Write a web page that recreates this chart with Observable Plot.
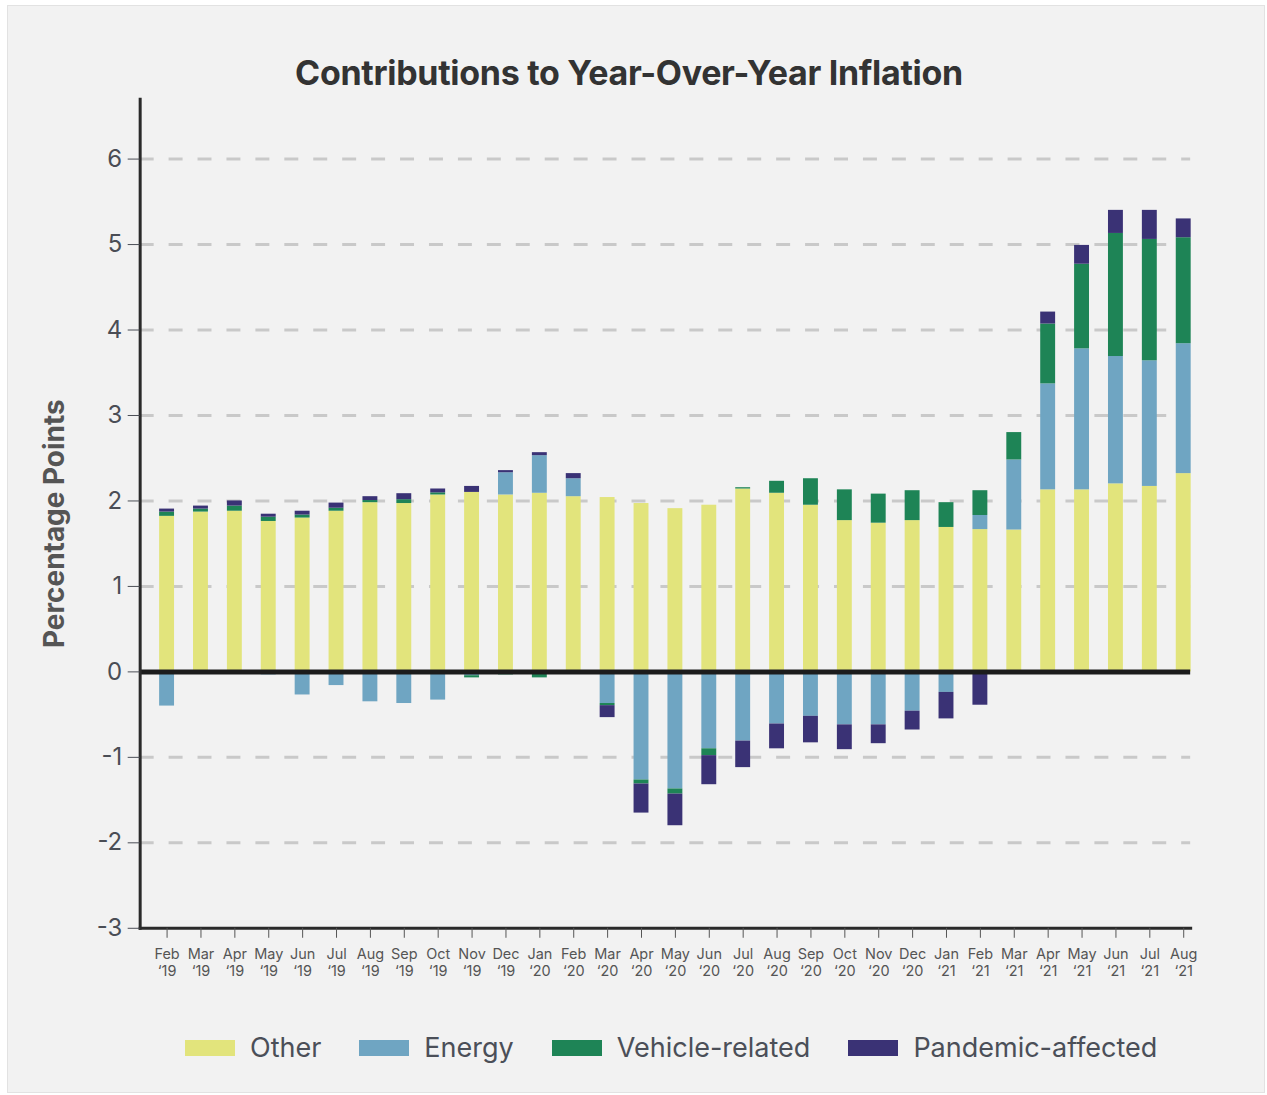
<!DOCTYPE html>
<html><head><meta charset="utf-8">
<script src="https://cdn.jsdelivr.net/npm/d3@7"></script>
<script src="https://cdn.jsdelivr.net/npm/@observablehq/plot@0.6"></script>
<style>
body{margin:0;background:#fff;font-family:Inter,"Noto Sans",sans-serif;width:1267px;height:1095px;position:relative;overflow:hidden;}
#panel{position:absolute;left:7px;top:5px;width:1258px;height:1088px;background:#f2f2f2;border:1px solid #e2e2e2;box-sizing:border-box;}
#title{position:absolute;left:-8px;top:46px;width:1258px;text-align:center;font-weight:700;font-size:34px;color:#333;letter-spacing:-0.3px;}
#chart{position:absolute;left:-8px;top:-6px;}
#legend{position:absolute;left:177px;top:1025px;display:flex;align-items:center;gap:38px;font-size:27px;color:#4b4f58;}
.item{display:flex;align-items:center;}
.sw{width:50px;height:16px;margin-right:15px;}
</style>
</head><body>
<div id="panel">
  <div id="title">Contributions to Year-Over-Year Inflation</div>
  <div id="chart"></div>
  <div id="legend"></div>
</div>
<script>
const months = ["Feb\n‘19","Mar\n‘19","Apr\n‘19","May\n‘19","Jun\n‘19","Jul\n‘19","Aug\n‘19","Sep\n‘19","Oct\n‘19","Nov\n‘19","Dec\n‘19",
  "Jan\n‘20","Feb\n‘20","Mar\n‘20","Apr\n‘20","May\n‘20","Jun\n‘20","Jul\n‘20","Aug\n‘20","Sep\n‘20","Oct\n‘20","Nov\n‘20","Dec\n‘20",
  "Jan\n‘21","Feb\n‘21","Mar\n‘21","Apr\n‘21","May\n‘21","Jun\n‘21","Jul\n‘21","Aug\n‘21"];
const other    = [1.82,1.87,1.88,1.76,1.80,1.88,1.98,1.97,2.07,2.10,2.07,2.09,2.05,2.04,1.97,1.91,1.95,2.14,2.09,1.95,1.77,1.74,1.77,1.69,1.665,1.66,2.13,2.13,2.20,2.17,2.32];
const energy   = [-0.40,0,0,-0.035,-0.27,-0.16,-0.35,-0.37,-0.33,-0.045,0.26,0.44,0.21,-0.37,-1.265,-1.37,-0.90,-0.81,-0.61,-0.52,-0.62,-0.62,-0.46,-0.24,0.165,0.82,1.24,1.65,1.49,1.47,1.52];
const vehicle  = [0.05,0.035,0.06,0.05,0.035,0.035,0.025,0.045,0.025,-0.025,-0.035,-0.07,0,-0.025,-0.047,-0.06,-0.08,0.015,0.14,0.31,0.36,0.34,0.35,0.29,0.29,0.32,0.70,0.99,1.44,1.42,1.24];
const pandemic = [0.035,0.035,0.06,0.035,0.045,0.06,0.045,0.07,0.045,0.07,0.025,0.035,0.06,-0.14,-0.34,-0.37,-0.34,-0.31,-0.29,-0.31,-0.29,-0.22,-0.22,-0.31,-0.39,0,0.14,0.22,0.27,0.34,0.22];
const series = ["Other","Energy","Vehicle-related","Pandemic-affected"];
const colors = ["#e2e47c","#6fa5c2","#1e8456","#3a3275"];
const yTicks = [-3,-2,-1,0,1,2,3,4,5,6];
const gridTicks = [-2,-1,1,2,3,4,5,6];

const rows = [];
[other, energy, vehicle, pandemic].forEach((arr, si) =>
  arr.forEach((v, i) => rows.push({month: months[i], series: series[si], value: v})));

const chart = Plot.plot({
  width: 1267, height: 1000,
  marginLeft: 140, marginRight: 74, marginTop: 99, marginBottom: 70,
  style: {background: "transparent", fontFamily: "Inter, sans-serif", overflow: "visible"},
  x: {type: "band", domain: months, range: [159.5, 1193.5], paddingInner: 0.56, paddingOuter: 0, round: false, label: null},
  y: {domain: [-3, 6.7], label: null},
  color: {domain: series, range: colors},
  marks: [
    Plot.ruleY(gridTicks, {stroke: "#c9c9c9", strokeWidth: 3, strokeDasharray: "14,15"}),
    Plot.barY(rows, {x: "month", y: "value", fill: "series", order: series, inset: 0}),
    Plot.ruleY([0], {stroke: "#1c1c1c", strokeWidth: 5}),
    Plot.frame({anchor: "left", stroke: "#2a2a2a", strokeWidth: 3}),
    Plot.frame({anchor: "bottom", stroke: "#2a2a2a", strokeWidth: 3}),
    Plot.axisY({ticks: yTicks, tickFormat: d => String(d), tickSize: 12, tickPadding: 6, fontSize: 24, fontVariant: "normal", color: "#4a4d55", label: null}),
    Plot.axisX({tickSize: 10, tickPadding: 9, fontSize: 14.5, lineHeight: 1.15, fontVariant: "normal", color: "#555", label: null}),
    Plot.text(["Percentage Points"], {text: d => d, frameAnchor: "left", textAnchor: "middle", dx: -85, dy: 10, rotate: -90, fontSize: 28, fontWeight: "bold", fill: "#555"})
  ]
});
document.getElementById("chart").appendChild(chart);

const legend = d3.select("#legend");
series.forEach((s, i) => {
  const it = legend.append("div").attr("class", "item");
  it.append("div").attr("class", "sw").style("background", colors[i]);
  it.append("span").text(s);
});
</script>
</body></html>
